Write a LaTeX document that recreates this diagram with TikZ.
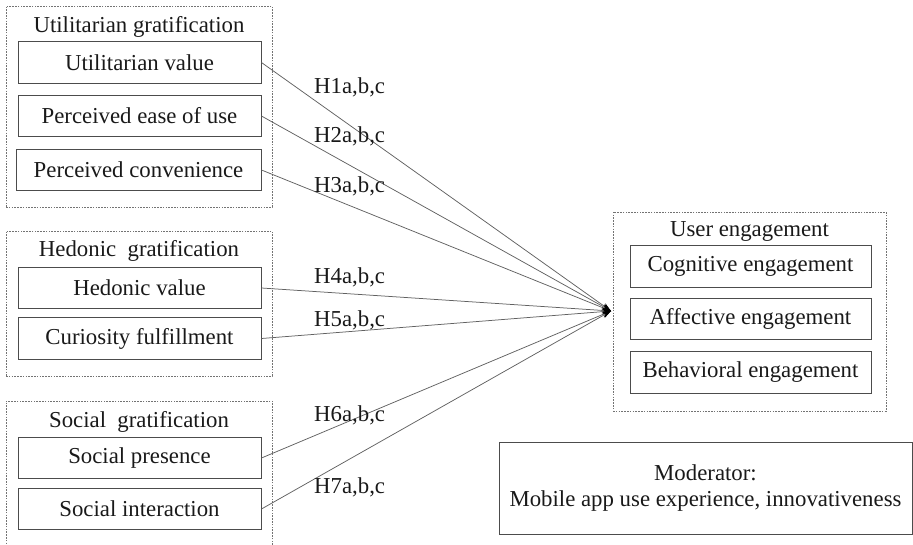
\documentclass[tikz,border=0pt]{standalone}
\usepackage{fontspec}
\setmainfont{Liberation Serif}
\usetikzlibrary{arrows.meta}
\begin{document}
\begin{tikzpicture}[x=1pt,y=-1pt,
  every node/.style={font=\fontsize{22.8}{27}\selectfont, text=black!90},
  itembox/.style={draw=black!70, line width=0.9pt, inner sep=0pt, minimum width=243pt, minimum height=41.5pt},
  groupbox/.style={draw=black!55, line width=0.8pt, dash pattern=on 1.6pt off 1.2pt, inner sep=0pt},
  title/.style={anchor=base, inner sep=0pt},
  hlabel/.style={anchor=base west, inner sep=0pt},
  link/.style={draw=black!62, line width=0.75pt, -{Stealth[length=9pt,width=6pt,color=black]}}
]
\useasboundingbox (0,0) rectangle (913,544);
% group boxes
\node[groupbox, minimum width=266pt, minimum height=201pt] (gU) at (139,106.5) {};
\node[groupbox, minimum width=266pt, minimum height=145pt] (gH) at (139,303.5) {};
\node[groupbox, minimum width=266pt, minimum height=144pt] (gS) at (139,473) {};
\node[groupbox, minimum width=273pt, minimum height=199pt] (gE) at (749.5,311.5) {};
% titles
\node[title] (tU) at (139,32) {Utilitarian gratification};
\node[title] (tH) at (139,256) {Hedonic\ \ gratification};
\node[title] (tS) at (139,427) {Social\ \ gratification};
\node[title] (tE) at (749.5,236) {User engagement};
% items
\node[itembox] (uv) at (139.5,62.5) {Utilitarian value};
\node[itembox] (pe) at (139.5,116) {Perceived ease of use};
\node[itembox, minimum width=245pt] (pc) at (138.5,170) {Perceived convenience};
\node[itembox] (hv) at (139.5,288) {Hedonic value};
\node[itembox] (cf) at (139.5,338.5) {Curiosity fulfillment};
\node[itembox] (sp) at (139.5,458) {Social presence};
\node[itembox] (si) at (139.5,509) {Social interaction};
\node[itembox, minimum width=241pt] (ce) at (750.5,266.5) {Cognitive engagement};
\node[itembox, minimum width=241pt] (ae) at (750.5,319) {Affective engagement};
\node[itembox, minimum width=241pt] (be) at (750.5,372.5) {Behavioral engagement};
\node[draw=black!70, line width=0.9pt, minimum width=413pt, minimum height=92pt, inner sep=0pt, align=center] (mod) at (705.5,488) {Moderator:\\[-1pt]Mobile app use experience, innovativeness};
% hub
\coordinate (hub) at (611,311);
% links
\foreach \n in {uv,pe,pc,hv,cf,sp,si}{ \draw[link] (\n.east) -- (hub); }
% labels
\node[hlabel] (h1) at (314,93) {H1a,b,c};
\node[hlabel] (h2) at (314,142) {H2a,b,c};
\node[hlabel] (h3) at (314,192) {H3a,b,c};
\node[hlabel] (h4) at (314,283) {H4a,b,c};
\node[hlabel] (h5) at (314,326) {H5a,b,c};
\node[hlabel] (h6) at (314,421) {H6a,b,c};
\node[hlabel] (h7) at (314,493) {H7a,b,c};
\end{tikzpicture}
\end{document}
